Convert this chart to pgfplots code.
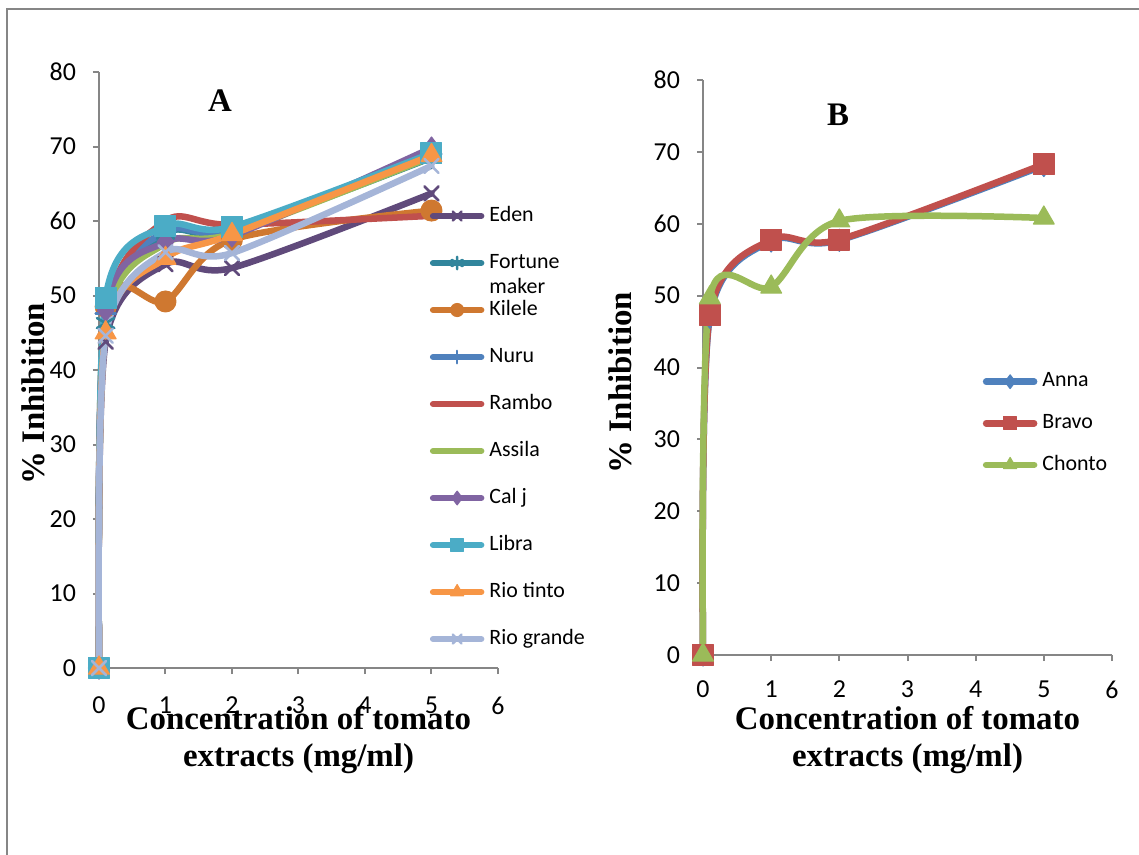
\documentclass[border=0pt]{standalone}
\usepackage{fontspec}
\setmainfont{Liberation Serif}
\newfontfamily\calfont{Carlito}
\usepackage{pgfplots}
\pgfplotsset{compat=1.18}
\definecolor{axgray}{HTML}{868686}
\definecolor{cEden}{HTML}{604A7B}
\definecolor{cFort}{HTML}{31859C}
\definecolor{cKil}{HTML}{CF7830}
\definecolor{cNuru}{HTML}{4F81BD}
\definecolor{cRambo}{HTML}{C0504D}
\definecolor{cAssila}{HTML}{9BBB59}
\definecolor{cCalj}{HTML}{8064A2}
\definecolor{cLibra}{HTML}{4BACC6}
\definecolor{cRioT}{HTML}{F79646}
\definecolor{cRioG}{HTML}{A5B5D8}
\pgfplotsset{
  panel/.style={
    scale only axis, clip=false,
    xmin=0, xmax=6, ymin=0, ymax=80,
    xtick={0,...,6}, ytick={0,10,...,80},
    axis x line*=bottom, axis y line*=left,
    axis line style={draw=axgray, line width=1bp, -},
    tick style={draw=axgray, line width=1bp},
    major tick length=3bp, tick align=outside,
    /pgf/number format/assume math mode=true,
    ticklabel style={font=\calfont\fontsize{13}{15}\selectfont},
    yticklabel style={xshift=-5bp},
    ylabel style={font=\bfseries\fontsize{16.5}{18.5}\selectfont, anchor=center, inner sep=0pt},
    xlabel style={font=\bfseries\fontsize{16.5}{18.5}\selectfont, align=center, anchor=north, inner sep=0pt},
    legend cell align=left,
    legend image code/.code={\draw[mark repeat=2,mark phase=2,#1, every mark/.append style={scale=0.62}] plot coordinates {(0bp,0bp) (12bp,0bp) (24bp,0bp)};},
  },
  ser/.style={color=#1, line width=3.25bp, smooth, line cap=round, line join=round, mark options={solid, fill=#1, draw=#1, line width=0.6bp}},
  sermx/.style={color=#1, line width=3.25bp, smooth, line cap=round, line join=round, mark options={solid, draw=#1, line width=1.3bp}},
}
\begin{document}
\begin{tikzpicture}
\useasboundingbox (0bp,0bp) rectangle (569.5bp,-427.5bp);
\draw[axgray, line width=1bp] (3.5bp,-427.5bp) -- (3.5bp,-4.5bp) -- (569.5bp,-4.5bp);
% ---------------- Panel A ----------------
\begin{axis}[panel, at={(49.5bp,-334bp)}, anchor=south west,
  width=199.5bp, height=298bp,
  xticklabel style={yshift=-8bp},
  xlabel={Concentration of tomato\\extracts (mg/ml)},
  xlabel style={at={(axis description cs:0.5,0)}, yshift=-19bp},
  ylabel={\% Inhibition},
  ylabel style={at={(axis description cs:0,0.46)}, yshift=33bp},
  legend style={draw=none, fill=none, at={(axis cs:4.97,62.0)}, anchor=north west,
    inner sep=0pt, row sep=14.0bp, font=\calfont\fontsize{11}{12.5}\selectfont,
    nodes={inner xsep=2.5bp, inner ysep=0pt, text height=7.3bp, text depth=2.2bp}},
]
\addplot[sermx=cEden, mark=x, mark size=5bp] coordinates {(0,0) (0.1,43.8) (1,54.2) (2,53.7) (5,63.7)};
\addlegendentry{Eden}
\addplot[sermx=cFort, mark=asterisk, mark size=5bp] coordinates {(0,0) (0.1,46.3) (1,58.3) (2,58.6) (5,68.5)};
\addlegendentry{\smash{\vtop{\hbox{Fortune}\hbox{maker}}}}
\addplot[ser=cKil, mark=*, mark size=5.2bp] coordinates {(0,0) (0.1,48.5) (1,49.2) (2,57.5) (5,61.4)};
\addlegendentry{Kilele}
\addplot[sermx=cNuru, mark=+, mark size=5bp] coordinates {(0,0) (0.1,47.6) (1,58.6) (2,58.8) (5,69.0)};
\addlegendentry{Nuru}
\addplot[ser=cRambo, mark=none] coordinates {(0,0) (0.1,47.2) (1,60.0) (2,59.5) (5,60.7)};
\addlegendentry{Rambo}
\addplot[ser=cAssila, mark=none] coordinates {(0,0) (0.1,46.4) (1,57.0) (2,58.3) (5,68.6)};
\addlegendentry{Assila}
\addplot[ser=cCalj, mark=diamond*, mark size=5.5bp] coordinates {(0,0) (0.1,48.0) (1,57.2) (2,58.0) (5,69.8)};
\addlegendentry{Cal j}
\addplot[ser=cLibra, mark=square*, mark size=5.2bp] coordinates {(0,0) (0.1,49.7) (1,59.3) (2,59.2) (5,69.1)};
\addlegendentry{Libra}
\addplot[ser=cRioT, mark=triangle*, mark size=6bp] coordinates {(0,0) (0.1,45.0) (1,55.0) (2,58.2) (5,68.8)};
\addlegendentry{Rio tinto}
\addplot[sermx=cRioG, mark=x, mark size=5bp] coordinates {(0,0) (0.1,44.6) (1,55.8) (2,55.7) (5,67.4)};
\addlegendentry{Rio grande}
\node[font=\bfseries\fontsize{16.5}{18.5}\selectfont] at (axis cs:1.82,76.2) {A};
\end{axis}
% ---------------- Panel B ----------------
\begin{axis}[panel, at={(351.5bp,-327.5bp)}, anchor=south west,
  width=204.5bp, height=287.5bp,
  xticklabel style={yshift=-6.5bp},
  xlabel={Concentration of tomato\\extracts (mg/ml)},
  xlabel style={at={(axis description cs:0.5,0)}, yshift=-25.6bp},
  ylabel={\% Inhibition},
  ylabel style={at={(axis description cs:0,0.473)}, yshift=41.5bp},
  legend style={draw=none, fill=none, at={(axis cs:4.10,39.4)}, anchor=north west,
    inner sep=0pt, row sep=11.3bp, font=\calfont\fontsize{11}{12.5}\selectfont,
    nodes={inner xsep=2.5bp, inner ysep=0pt, text height=7.3bp, text depth=2.2bp}},
]
\addplot[ser=cNuru, mark=diamond*, mark size=5.5bp] coordinates {(0,0) (0.1,47.0) (1,57.6) (2,57.7) (5,68.1)};
\addlegendentry{Anna}
\addplot[ser=cRambo, mark=square*, mark size=5.2bp] coordinates {(0,0) (0.1,47.3) (1,57.8) (2,57.8) (5,68.3)};
\addlegendentry{Bravo}
\addplot[ser=cAssila, mark=triangle*, mark size=6bp] coordinates {(0,0) (0.1,49.7) (1,51.2) (2,60.4) (5,60.8)};
\addlegendentry{Chonto}
\node[font=\bfseries\fontsize{16.5}{18.5}\selectfont] at (axis cs:1.98,75.1) {B};
\end{axis}
\end{tikzpicture}
\end{document}
